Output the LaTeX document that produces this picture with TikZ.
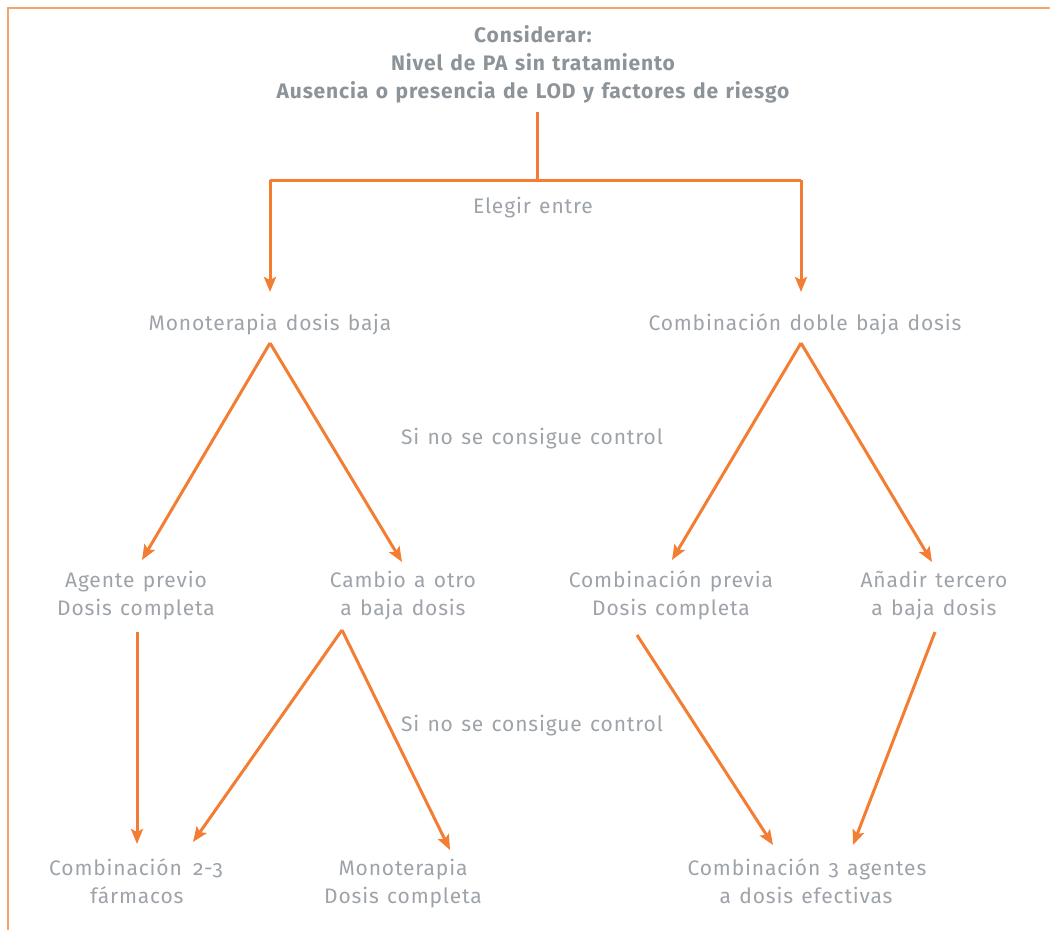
\documentclass[tikz,border=0pt]{standalone}
\usepackage{fontspec}
\setmainfont{Fira Sans}[Numbers=OldStyle, LetterSpace=4, WordSpace=1.3]
\usetikzlibrary{arrows.meta}
\definecolor{txtgray}{HTML}{9DA3A9}
\definecolor{ttlgray}{HTML}{8C9399}
\definecolor{arrorange}{HTML}{F37D32}
\definecolor{framecol}{HTML}{F5A46E}
\tikzset{
  lbl/.style={text=txtgray, font=\fontsize{21}{28}\selectfont, align=center, inner sep=0pt, anchor=base},
  ttl/.style={text=ttlgray, font=\fontsize{21}{28}\selectfont\bfseries, align=center, inner sep=0pt, anchor=base},
  conn/.style={draw=arrorange, line width=3pt},
  arr/.style={conn, -{Stealth[length=15pt,width=12pt,inset=3pt]}},
}
\begin{document}
\begin{tikzpicture}[x=1pt,y=-1pt]
\useasboundingbox (0,0) rectangle (1050,930);
% frame
\draw[framecol, line width=2pt] (8,930) -- (8,8) -- (1050,8);
% texts
\node[ttl] (t1) at (533,42) {Considerar:};
\node[ttl] (t2) at (533,70) {Nivel de PA sin tratamiento};
\node[ttl] (t3) at (533,98) {Ausencia o presencia de LOD y factores de riesgo};
\node[lbl] (elegir) at (533,213) {Elegir entre};
\node[lbl] (mono) at (270,330) {Monoterapia dosis baja};
\node[lbl] (doble) at (805,330) {Combinación doble baja dosis};
\node[lbl] (si1) at (532,444) {Si no se consigue control};
\node[lbl] (agente) at (136,587) {Agente previo};
\node[lbl] (agente2) at (136,615) {Dosis completa};
\node[lbl] (cambio) at (403,587) {Cambio a otro};
\node[lbl] (cambio2) at (403,615) {a baja dosis};
\node[lbl] (previa) at (671,587) {Combinación previa};
\node[lbl] (previa2) at (671,615) {Dosis completa};
\node[lbl] (anadir) at (934,587) {Añadir tercero};
\node[lbl] (anadir2) at (934,615) {a baja dosis};
\node[lbl] (si2) at (532,731) {Si no se consigue control};
\node[lbl] (comb23) at (136,875) {Combinación\hspace{3pt} 2-3};
\node[lbl] (comb23b) at (137,903) {fármacos};
\node[lbl] (monofull) at (403,875) {Monoterapia};
\node[lbl] (monofull2) at (403,903) {Dosis completa};
\node[lbl] (comb3) at (807,875) {Combinación 3 agentes};
\node[lbl] (comb3b) at (806,903) {a dosis efectivas};
% coordinates
\coordinate (ttop) at (537,112);
\coordinate (tmid) at (537,180);
\coordinate (hl) at (270,180);
\coordinate (hr) at (801,180);
\coordinate (monoin) at (270,292);
\coordinate (dobin) at (801,292);
\coordinate (monoout) at (270,343);
\coordinate (dobout) at (801,343);
\coordinate (agin) at (142,560);
\coordinate (cain) at (402,562);
\coordinate (prin) at (672,560);
\coordinate (anin) at (932,562);
\coordinate (agout) at (137,632);
\coordinate (caout) at (342,630);
\coordinate (prout) at (637,635);
\coordinate (anout) at (935,632);
\coordinate (c23in) at (137,844);
\coordinate (c23in2) at (193,842);
\coordinate (mfin) at (450,850);
\coordinate (c3in) at (773,845);
\coordinate (c3in2) at (853,845);
% connectors
\draw[conn] (ttop) -- (tmid);
\draw[conn] (hl) -- (hr);
\draw[arr] (hl) -- (monoin);
\draw[arr] (hr) -- (dobin);
\draw[arr] (monoout) -- (agin);
\draw[arr] (monoout) -- (cain);
\draw[arr] (dobout) -- (prin);
\draw[arr] (dobout) -- (anin);
\draw[arr] (agout) -- (c23in);
\draw[arr] (caout) -- (c23in2);
\draw[arr] (caout) -- (mfin);
\draw[arr] (prout) -- (c3in);
\draw[arr] (anout) -- (c3in2);
\end{tikzpicture}
\end{document}
